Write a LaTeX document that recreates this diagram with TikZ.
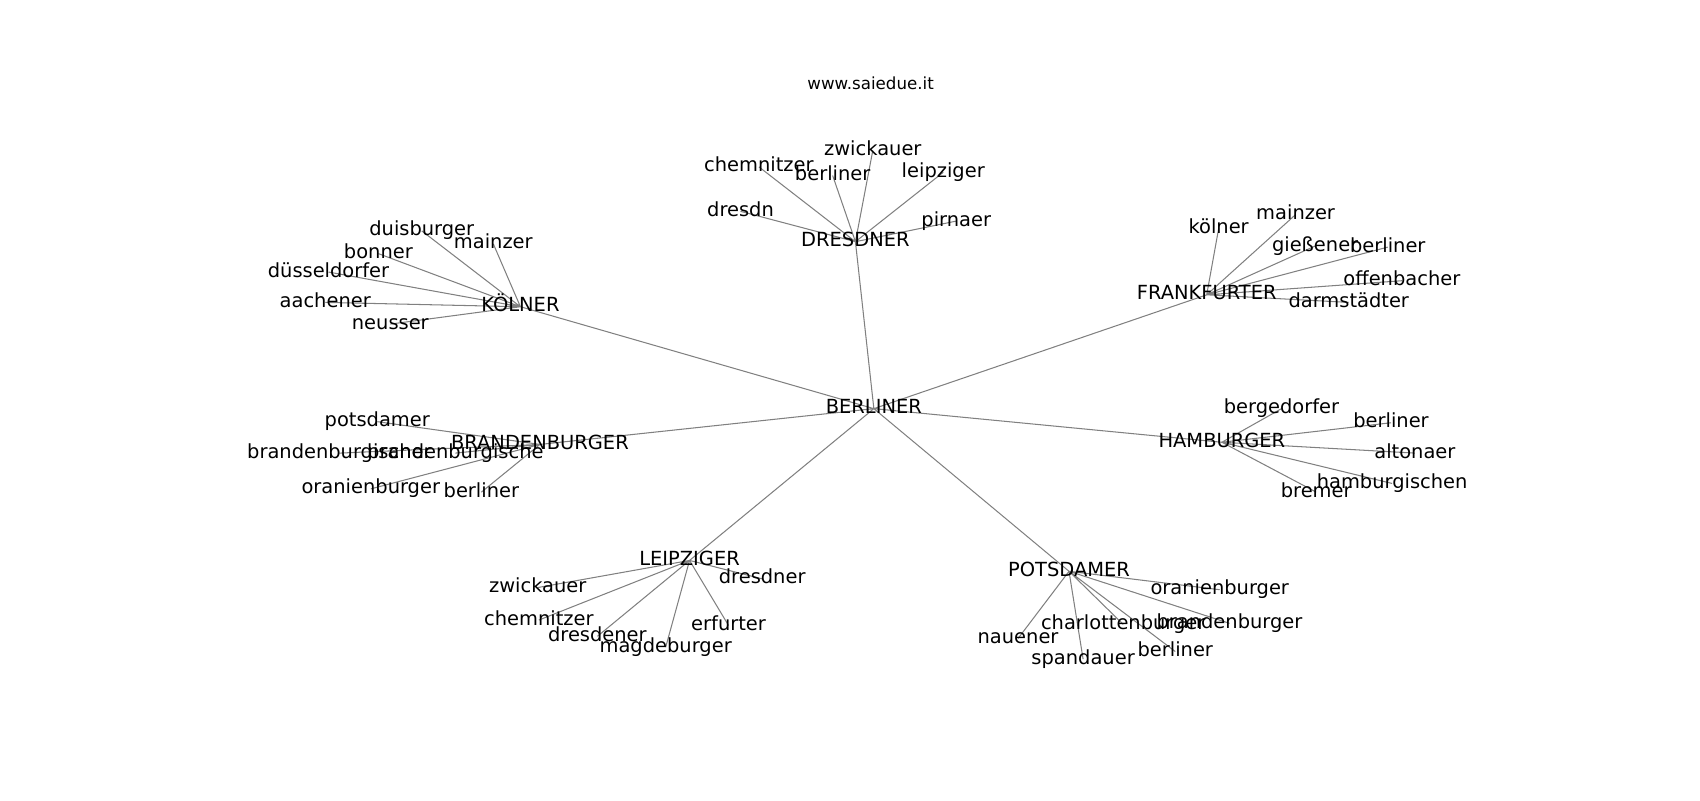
\documentclass[tikz,border=0pt]{standalone}
\usepackage{fontspec}
\setmainfont{DejaVu Sans}
\usetikzlibrary{backgrounds}
\tikzset{
  ort/.style={inner sep=0pt,text height=10.6pt,text depth=3.3pt,yshift=-1.5pt,font=\fontsize{14}{16}\selectfont},
  kante/.style={draw=gray,line width=0.75pt}
}
\begin{document}
\begin{tikzpicture}[x=0.78063pt,y=-0.78063pt]
\useasboundingbox (0,0) rectangle (1568,737.9);

\node (titel) at (803,76) [font=\fontsize{12}{14}\selectfont,yshift=-1pt] {www.saiedue.it};	% Titel

\node (berliner) at (806,375) [ort] {BERLINER};					% Mitte

\node (dresdner) at (789,221) [ort] {DRESDNER};					% Dresden
\node (dzwi) at (805,137) [ort] {zwickauer};
\node (dche) at (700,152) [ort] {chemnitzer};
\node (dber) at (768,160) [ort] {berliner};
\node (dlei) at (870,157) [ort] {leipziger};
\node (ddre) at (683,193) [ort] {dresdn};
\node (dpir) at (882,202) [ort] {pirnaer};

\node (koelner) at (480,281) [ort] {KÖLNER};					% Köln
\node (kdui) at (389,211) [ort] {duisburger};
\node (kmai) at (455,223) [ort] {mainzer};
\node (kbon) at (349,232) [ort] {bonner};
\node (kdue) at (303,249) [ort] {düsseldorfer};
\node (kaac) at (300,277) [ort] {aachener};
\node (kneu) at (360,297) [ort] {neusser};

\node (frankfurter) at (1113,270) [ort] {FRANKFURTER};			% Frankfurt
\node (fkoe) at (1124,209) [ort] {kölner};
\node (fmai) at (1195,196) [ort] {mainzer};
\node (fgie) at (1213,225) [ort] {gießener};
\node (fber) at (1280,226) [ort] {berliner};
\node (foff) at (1293,257) [ort] {offenbacher};
\node (fdar) at (1244,277) [ort] {darmstädter};

\node (brandenburger) at (498,408) [ort] {BRANDENBURGER};		% Brandenburg
\node (bpot) at (348,387) [ort] {potsdamer};
\node (bbrr) at (313,416) [ort] {brandenburgischer};
\node (bbre) at (420,416) [ort] {brandenburgische};
\node (bora) at (342,449) [ort] {oranienburger};
\node (bber) at (444,452) [ort] {berliner};

\node (hamburger) at (1127,406) [ort] {HAMBURGER};				% Hamburg
\node (hbgd) at (1182,375) [ort] {bergedorfer};
\node (hber) at (1283,388) [ort] {berliner};
\node (halt) at (1305,416) [ort] {altonaer};
\node (hham) at (1284,444) [ort] {hamburgischen};
\node (hbre) at (1214,452) [ort] {bremer};

\node (leipziger) at (636,515) [ort] {LEIPZIGER};				% Leipzig
\node (ldre) at (703,532) [ort] {dresdner};
\node (lzwi) at (496,540) [ort] {zwickauer};
\node (lche) at (497,570) [ort] {chemnitzer};
\node (lerf) at (672,575) [ort] {erfurter};
\node (ldrd) at (551,585) [ort] {dresdener};
\node (lmag) at (614,595) [ort] {magdeburger};

\node (potsdamer) at (986,525) [ort] {POTSDAMER};				% Potsdam
\node (pora) at (1125,542) [ort] {oranienburger};
\node (pcha) at (1036,574) [ort] {charlottenburger};
\node (pbra) at (1134,573) [ort] {brandenburger};
\node (pnau) at (939,587) [ort] {nauener};
\node (pspa) at (999,606) [ort] {spandauer};
\node (pber) at (1084,599) [ort] {berliner};

\begin{scope}[on background layer]
\draw[kante] (berliner.center) -- (dresdner.center) (berliner.center) -- (koelner.center)
  (berliner.center) -- (frankfurter.center) (berliner.center) -- (brandenburger.center)
  (berliner.center) -- (hamburger.center) (berliner.center) -- (leipziger.center)
  (berliner.center) -- (potsdamer.center);								% Mitte zu Städten
\draw[kante] (dresdner.center) -- (dzwi.center) (dresdner.center) -- (dche.center)
  (dresdner.center) -- (dber.center) (dresdner.center) -- (dlei.center)
  (dresdner.center) -- (ddre.center) (dresdner.center) -- (dpir.center);
\draw[kante] (koelner.center) -- (kdui.center) (koelner.center) -- (kmai.center)
  (koelner.center) -- (kbon.center) (koelner.center) -- (kdue.center)
  (koelner.center) -- (kaac.center) (koelner.center) -- (kneu.center);
\draw[kante] (frankfurter.center) -- (fkoe.center) (frankfurter.center) -- (fmai.center)
  (frankfurter.center) -- (fgie.center) (frankfurter.center) -- (fber.center)
  (frankfurter.center) -- (foff.center) (frankfurter.center) -- (fdar.center);
\draw[kante] (brandenburger.center) -- (bpot.center) (brandenburger.center) -- (bbrr.center)
  (brandenburger.center) -- (bbre.center) (brandenburger.center) -- (bora.center)
  (brandenburger.center) -- (bber.center);
\draw[kante] (hamburger.center) -- (hbgd.center) (hamburger.center) -- (hber.center)
  (hamburger.center) -- (halt.center) (hamburger.center) -- (hham.center)
  (hamburger.center) -- (hbre.center);
\draw[kante] (leipziger.center) -- (ldre.center) (leipziger.center) -- (lzwi.center)
  (leipziger.center) -- (lche.center) (leipziger.center) -- (lerf.center)
  (leipziger.center) -- (ldrd.center) (leipziger.center) -- (lmag.center);
\draw[kante] (potsdamer.center) -- (pora.center) (potsdamer.center) -- (pcha.center)
  (potsdamer.center) -- (pbra.center) (potsdamer.center) -- (pnau.center)
  (potsdamer.center) -- (pspa.center) (potsdamer.center) -- (pber.center);
\end{scope}

\end{tikzpicture}
\end{document}
